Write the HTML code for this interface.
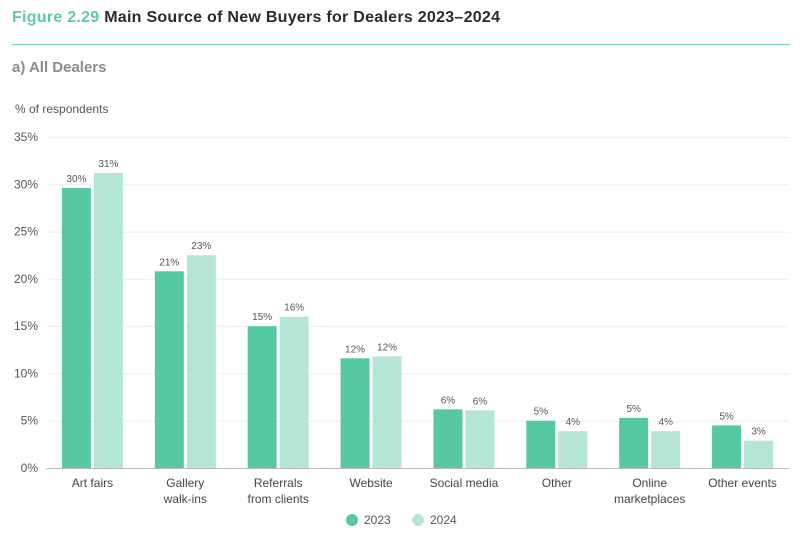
<!DOCTYPE html>
<html><head><meta charset="utf-8"><style>
body{margin:0;background:#fff;width:804px;height:552px;overflow:hidden;font-family:"Liberation Sans",sans-serif}
svg text{font-family:"Liberation Sans",sans-serif}
</style></head><body>
<svg id="chart" width="804" height="552">
<text x="12" y="22" font-size="16" font-weight="bold" fill="#5cc9a7" textLength="488">Figure 2.29 <tspan fill="#2a2a2a">Main Source of New Buyers for Dealers 2023–2024</tspan></text>
<line x1="12" y1="44.5" x2="790" y2="44.5" stroke="#7fd3b8" stroke-width="1.2"/>
<text x="12" y="72" font-size="15" font-weight="bold" fill="#8c8c8c">a) All Dealers</text>
<text x="15" y="113" font-size="12" fill="#555">% of respondents</text>
<g id="grid"></g><g id="bars"></g><g id="labels"></g>
<g>
<circle cx="352" cy="520" r="6" fill="#57c9a0"/>
<text x="364" y="524" font-size="12" fill="#555">2023</text>
<circle cx="418" cy="520" r="6" fill="#b5e6d5"/>
<text x="430" y="524" font-size="12" fill="#555">2024</text>
</g>
</svg>
<script>
const categories=[["Art fairs"],["Gallery","walk-ins"],["Referrals","from clients"],["Website"],["Social media"],["Other"],["Online","marketplaces"],["Other events"]];
const values2023=[29.6,20.8,15.0,11.6,6.2,5.0,5.3,4.5];
const values2024=[31.2,22.5,16.0,11.8,6.1,3.9,3.9,2.9];
const labels2023=["30%","21%","15%","12%","6%","5%","5%","5%"];
const labels2024=["31%","23%","16%","12%","6%","4%","4%","3%"];
const yTicks=[0,5,10,15,20,25,30,35];
const NS="http://www.w3.org/2000/svg";
const x0=46,x1=789,yBase=468,yTop=137,yMax=35;
const y=v=>yBase-(v/yMax)*(yBase-yTop);
const band=(x1-x0)/categories.length;
const cx=i=>x0+band*(i+0.5);
function mk(t,a,p){const e=document.createElementNS(NS,t);for(const k in a)e.setAttribute(k,a[k]);p.appendChild(e);return e;}
const grid=document.getElementById('grid'),bars=document.getElementById('bars'),labels=document.getElementById('labels');
yTicks.forEach(t=>{
 const l=mk('line',{x1:x0,x2:x1,y1:y(t)+.5,y2:y(t)+.5,stroke:t===0?'#bbb':'#eee'},grid);
 
 
 const tx=mk('text',{x:38,y:y(t)+4,'font-size':12,fill:'#555','text-anchor':'end'},grid);
 tx.textContent=t+'%';
 
 
});
const bw=29,gap=3;
categories.forEach((c,i)=>{
 [[values2023,labels2023,'#57c9a0',-1,'2023'],[values2024,labels2024,'#b5e6d5',1,'2024']].forEach(([vals,lbs,col,s,yr])=>{
  const bx=s<0?cx(i)-gap/2-bw:cx(i)+gap/2;
  const r=mk('rect',{x:bx,y:y(vals[i]),width:bw,height:yBase-y(vals[i]),fill:col},bars);
  
  
  const t=mk('text',{x:bx+bw/2,y:y(vals[i])-6,'font-size':10,fill:'#555','text-anchor':'middle'},labels);
  t.textContent=lbs[i];
  
  
 });
 const t=mk('text',{x:cx(i),y:487,'font-size':12,fill:'#444','text-anchor':'middle'},labels);
 
 
 c.forEach((line,j)=>{const ts=mk('tspan',{x:cx(i),dy:j?16:0},t);ts.textContent=line;});
});
</script>
</body></html>
